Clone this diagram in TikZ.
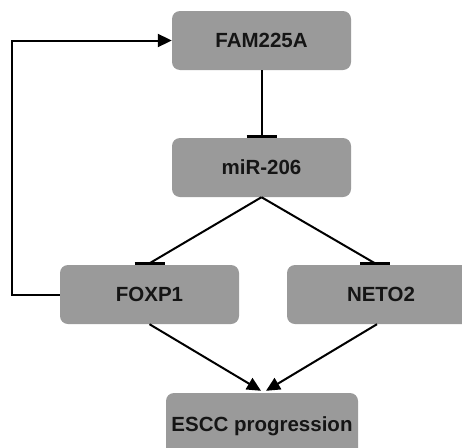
\documentclass[tikz,border=0pt]{standalone}
\usepackage{fontspec}
\setmainfont{Liberation Sans}
\usetikzlibrary{arrows.meta}
\definecolor{boxgray}{HTML}{9A9A9A}
\definecolor{ink}{HTML}{151515}
\tikzset{
  gbox/.style={fill=boxgray, rounded corners=8pt, inner sep=0pt, minimum width=179pt, minimum height=59pt,
    font=\fontsize{20.5}{24}\selectfont\bfseries, text=ink},
  conn/.style={line width=2pt, draw=black},
  tbar/.style={line width=3pt, draw=black},
  arr/.style={conn, -{Triangle[length=14pt,width=13pt]}}
}
\begin{document}
\begin{tikzpicture}[x=1pt,y=-1pt]
\useasboundingbox (0,0) rectangle (462,447);
\clip (0,0) rectangle (462,447);
\node[gbox] (fam) at (261.5,40.5) {FAM225A};
\node[gbox] (mir) at (261.5,167.5) {miR-206};
\node[gbox] (foxp) at (149.5,294.5) {FOXP1};
\node[gbox, minimum width=188pt] (neto) at (381,294.5) {NETO2};
\node[gbox, minimum width=192pt, minimum height=67pt] (escc) at (262,426.5) {ESCC progression};
% inhibition FAM225A -> miR-206
\draw[conn] (fam.south) -- ([yshift=1.5pt]mir.north);
\draw[tbar] ([xshift=-15pt,yshift=1.5pt]mir.north) -- ([xshift=15pt,yshift=1.5pt]mir.north);
% miR-206 -> FOXP1, NETO2
\draw[conn] (mir.south) -- ([yshift=1.5pt]foxp.north);
\draw[tbar] ([xshift=-15pt,yshift=1.5pt]foxp.north) -- ([xshift=15pt,yshift=1.5pt]foxp.north);
\draw[conn] (mir.south) -- ([xshift=-6pt,yshift=1.5pt]neto.north);
\draw[tbar] ([xshift=-21pt,yshift=1.5pt]neto.north) -- ([xshift=9pt,yshift=1.5pt]neto.north);
% to ESCC
\draw[arr] (foxp.south) -- ([xshift=-1pt,yshift=2pt]escc.north);
\draw[arr] ([xshift=-4pt]neto.south) -- ([xshift=4pt,yshift=2pt]escc.north);
% feedback loop
\draw[arr] (foxp.west) -- ++(-48,0) |- (fam.west);
\end{tikzpicture}
\end{document}
